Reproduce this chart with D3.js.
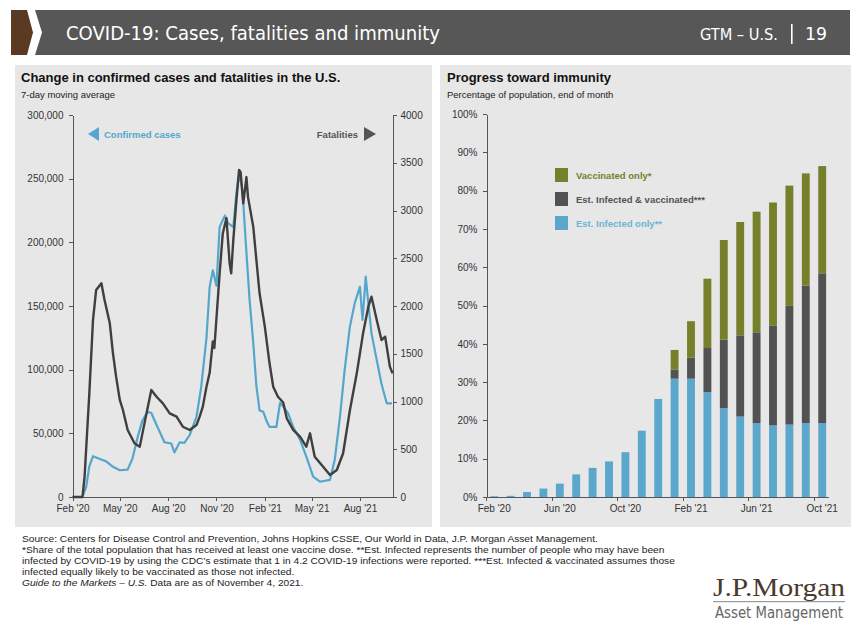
<!DOCTYPE html>
<html>
<head>
<meta charset="utf-8">
<script src="https://cdn.jsdelivr.net/npm/d3@7"></script>
<style>
  body { margin: 0; background: #fff; }
  svg { font-family: "Liberation Sans", Arial, sans-serif; }
  .axis path, .axis line { stroke: #555; shape-rendering: crispEdges; }
  .axis text { fill: #333; font-size: 10px; }
</style>
</head>
<body>
<script>
// ---- data ----
// 7-day moving average of confirmed cases (left axis)
var cases = [
  ["2020-02-01", 0], ["2020-02-20", 0], ["2020-02-27", 8000], ["2020-03-04", 24000],
  ["2020-03-11", 32000], ["2020-03-23", 30000], ["2020-04-05", 28000], ["2020-04-17", 24000],
  ["2020-05-01", 21000], ["2020-05-16", 21500], ["2020-05-25", 30000], ["2020-06-04", 47000],
  ["2020-06-13", 60000], ["2020-06-23", 67000], ["2020-06-30", 66000], ["2020-07-10", 56500],
  ["2020-07-25", 43000], ["2020-08-07", 42000], ["2020-08-13", 35000], ["2020-08-23", 43000],
  ["2020-09-01", 42500], ["2020-09-11", 48700], ["2020-09-24", 63000], ["2020-10-03", 86600],
  ["2020-10-13", 125000], ["2020-10-19", 165000], ["2020-10-25", 178000], ["2020-11-01", 166000],
  ["2020-11-07", 212000], ["2020-11-17", 221000], ["2020-11-23", 215000], ["2020-12-03", 212000],
  ["2020-12-09", 239000], ["2020-12-14", 254000], ["2020-12-19", 244000], ["2020-12-22", 231000],
  ["2020-12-28", 192000], ["2021-01-03", 155000], ["2021-01-10", 121000], ["2021-01-16", 87000],
  ["2021-01-22", 68000], ["2021-01-29", 67000], ["2021-02-04", 60000], ["2021-02-10", 55000],
  ["2021-02-23", 55000], ["2021-03-02", 74000], ["2021-03-08", 71000], ["2021-03-17", 66000],
  ["2021-03-27", 55000], ["2021-04-09", 45000], ["2021-04-21", 31700], ["2021-05-04", 16000],
  ["2021-05-17", 12000], ["2021-06-05", 13400], ["2021-06-14", 29000], ["2021-06-24", 63000],
  ["2021-07-03", 100000], ["2021-07-13", 134000], ["2021-07-22", 152000], ["2021-08-01", 165000],
  ["2021-08-06", 139000], ["2021-08-12", 173000], ["2021-08-17", 152000], ["2021-08-23", 128500],
  ["2021-09-02", 107600], ["2021-09-11", 89000], ["2021-09-21", 73600], ["2021-10-01", 73600]
];

// 7-day moving average of fatalities (right axis)
var deaths = [
  ["2020-02-01", 0], ["2020-02-20", 0], ["2020-02-24", 213], ["2020-03-04", 1083],
  ["2020-03-11", 1853], ["2020-03-17", 2168], ["2020-03-27", 2238], ["2020-04-02", 2063],
  ["2020-04-12", 1819], ["2020-04-18", 1505], ["2020-04-24", 1260], ["2020-05-01", 1016],
  ["2020-05-07", 911], ["2020-05-16", 702], ["2020-05-29", 562], ["2020-06-08", 527],
  ["2020-06-17", 772], ["2020-06-30", 1120], ["2020-07-10", 1050], ["2020-07-22", 981],
  ["2020-08-04", 876], ["2020-08-17", 841], ["2020-08-29", 736], ["2020-09-11", 702],
  ["2020-09-24", 754], ["2020-09-30", 841], ["2020-10-06", 946], ["2020-10-13", 1155],
  ["2020-10-19", 1300], ["2020-10-25", 1630], ["2020-10-28", 1560], ["2020-11-07", 2342],
  ["2020-11-13", 2760], ["2020-11-20", 2920], ["2020-11-26", 2450], ["2020-11-29", 2342],
  ["2020-12-03", 2690], ["2020-12-09", 3110], ["2020-12-14", 3424], ["2020-12-17", 3400],
  ["2020-12-22", 3075], ["2020-12-28", 3350], ["2020-12-31", 3140], ["2021-01-10", 2830],
  ["2021-01-16", 2480], ["2021-01-22", 2133], ["2021-02-01", 1784], ["2021-02-10", 1400],
  ["2021-02-17", 1155], ["2021-02-26", 1050], ["2021-03-08", 990], ["2021-03-15", 820],
  ["2021-03-27", 702], ["2021-04-09", 632], ["2021-04-21", 527], ["2021-04-28", 667],
  ["2021-05-07", 422], ["2021-05-23", 317], ["2021-06-05", 230], ["2021-06-18", 283],
  ["2021-06-30", 458], ["2021-07-13", 911], ["2021-07-26", 1295], ["2021-08-07", 1714],
  ["2021-08-17", 1993], ["2021-08-23", 2098], ["2021-09-02", 1853], ["2021-09-11", 1644],
  ["2021-09-18", 1679], ["2021-09-27", 1365], ["2021-10-02", 1295]
];

var caseTicks = [0, 50000, 100000, 150000, 200000, 250000, 300000];
var deathTicks = [0, 500, 1000, 1500, 2000, 2500, 3000, 3500, 4000];
var lineDateTicks = ["2020-02-01", "2020-05-01", "2020-08-01", "2020-11-01", "2021-02-01", "2021-05-01", "2021-08-01"];

// immunity, % of population at end of month
var months = ["Feb '20", "Mar '20", "Apr '20", "May '20", "Jun '20", "Jul '20", "Aug '20",
  "Sep '20", "Oct '20", "Nov '20", "Dec '20", "Jan '21", "Feb '21", "Mar '21", "Apr '21",
  "May '21", "Jun '21", "Jul '21", "Aug '21", "Sep '21", "Oct '21"];
var infectedOnly = [0.2, 0.3, 1.3, 2.2, 3.5, 5.9, 7.6, 9.3, 11.7, 17.3, 25.6, 30.9, 30.9, 27.4, 23.2, 21.0, 19.3, 18.7, 18.9, 19.3, 19.3];
var infectedVacc = [0, 0, 0, 0, 0, 0, 0, 0, 0, 0, 0, 2.4, 5.5, 11.5, 17.9, 21.2, 23.7, 26.0, 31.0, 35.9, 39.1];
var vaccOnly = [0, 0, 0, 0, 0, 0, 0, 0, 0, 0, 0, 5.1, 9.5, 18.1, 26.0, 29.6, 31.5, 32.2, 31.4, 29.3, 28.0];
var pctTicks = [0, 10, 20, 30, 40, 50, 60, 70, 80, 90, 100];
var barMonthTicks = ["Feb '20", "Jun '20", "Oct '20", "Feb '21", "Jun '21", "Oct '21"];

var seriesKeys = ["infectedOnly", "infectedVacc", "vaccOnly"];
var seriesNames = { vaccOnly: "Vaccinated only*", infectedVacc: "Est. Infected & vaccinated***", infectedOnly: "Est. Infected only**" };
var colors = { vaccOnly: "#76802b", infectedVacc: "#525252", infectedOnly: "#5ba7cb" };
var blue = "#55a6cc", dark = "#3f3f3f";

var W = 859, H = 634;
var parse = d3.timeParse("%Y-%m-%d");

var svg = d3.select('body').append('svg').attr('width', W).attr('height', H);

// ---- header ----
var head = svg.append('g');
head.append('path').attr('d', 'M11,10 L27,10 L33,32.5 L27,55 L11,55 Z').attr('fill', '#5a3a22');
head.append('path').attr('d', 'M35,10 L850,10 L850,55 L35,55 L42,32.5 Z').attr('fill', '#575757');
head.append('text').attr('x', 66).attr('y', 40)
  .attr('fill', '#fff').attr('font-size', 19)
  .attr('font-family', '"Liberation Sans Narrow", "DejaVu Sans Condensed", "Liberation Sans", sans-serif')
  .attr('textLength', 374).attr('lengthAdjust', 'spacingAndGlyphs')
  .text('COVID-19: Cases, fatalities and immunity');
head.append('text').attr('x', 700).attr('y', 40)
  .attr('fill', '#fff').attr('font-size', 15)
  .attr('font-family', '"Liberation Sans Narrow", "DejaVu Sans Condensed", "Liberation Sans", sans-serif')
  .attr('textLength', 78).attr('lengthAdjust', 'spacingAndGlyphs')
  .text('GTM – U.S.');
head.append('rect').attr('x', 791).attr('y', 24).attr('width', 1.6).attr('height', 20).attr('fill', '#fff');
head.append('text').attr('x', 805).attr('y', 40)
  .attr('fill', '#fff').attr('font-size', 17)
  .attr('font-family', '"Liberation Sans Narrow", "DejaVu Sans Condensed", "Liberation Sans", sans-serif')
  .attr('textLength', 22).attr('lengthAdjust', 'spacingAndGlyphs')
  .text('19');

// ---- panels ----
svg.append('rect').attr('x', 15).attr('y', 65).attr('width', 417).attr('height', 462).attr('fill', '#e7e7e7');
svg.append('rect').attr('x', 440).attr('y', 65).attr('width', 411).attr('height', 462).attr('fill', '#e7e7e7');

function panelTitle(x, title, sub) {
  svg.append('text').attr('x', x).attr('y', 82).attr('font-size', 13).attr('font-weight', 'bold')
    .attr('fill', '#111').text(title);
  svg.append('text').attr('x', x).attr('y', 98).attr('font-size', 9.5)
    .attr('fill', '#222').text(sub);
}
panelTitle(21, 'Change in confirmed cases and fatalities in the U.S.', '7-day moving average');
panelTitle(447, 'Progress toward immunity', 'Percentage of population, end of month');

// ---- left chart: cases & fatalities ----
var x = d3.scaleTime().domain([parse("2020-02-01"), parse("2021-10-02")]).range([72.5, 392.5]);
var yC = d3.scaleLinear().domain([0, 300000]).range([497, 115]);
var yD = d3.scaleLinear().domain([0, 4000]).range([497, 115]);

svg.append('g').attr('class', 'axis').attr('transform', 'translate(72.5,0)')
  .call(d3.axisLeft(yC).tickValues(caseTicks).tickSize(4).tickSizeOuter(0).tickPadding(5).tickFormat(d3.format(',')));
svg.append('g').attr('class', 'axis').attr('transform', 'translate(392.5,0)')
  .call(d3.axisRight(yD).tickValues(deathTicks).tickSize(4).tickSizeOuter(0).tickPadding(4).tickFormat(d3.format('d')));
svg.append('g').attr('class', 'axis').attr('transform', 'translate(0,497)')
  .call(d3.axisBottom(x).tickValues(lineDateTicks.map(parse)).tickSize(4).tickSizeOuter(0).tickPadding(4)
    .tickFormat(d3.timeFormat("%b '%y")));

var lineC = d3.line().x(function(d){ return x(parse(d[0])) }).y(function(d){ return yC(d[1]) });
var lineD = d3.line().x(function(d){ return x(parse(d[0])) }).y(function(d){ return yD(d[1]) });

svg.append('path').datum(cases).attr('d', lineC)
  .attr('fill', 'none').attr('stroke', blue).attr('stroke-width', 2.2).attr('stroke-linejoin', 'round');
svg.append('path').datum(deaths).attr('d', lineD)
  .attr('fill', 'none').attr('stroke', dark).attr('stroke-width', 2.4).attr('stroke-linejoin', 'round');

// series labels with arrows
svg.append('path').attr('d', 'M88,134 L99,127 L99,141 Z').attr('fill', blue);
svg.append('text').attr('x', 104).attr('y', 137.5).attr('font-size', 9.5).attr('font-weight', 'bold')
  .attr('fill', blue).text('Confirmed cases');
svg.append('path').attr('d', 'M376,134 L364,127 L364,141 Z').attr('fill', '#555');
svg.append('text').attr('x', 358).attr('y', 137.5).attr('font-size', 9.5).attr('font-weight', 'bold')
  .attr('text-anchor', 'end').attr('fill', '#555').text('Fatalities');

// ---- right chart: stacked bars ----
var xb = d3.scaleBand().domain(months).range([486, 830.4]).paddingInner(0.52).paddingOuter(0.26);
var yP = d3.scaleLinear().domain([0, 100]).range([497, 114]);

var rows = months.map(function(m, i){
  return { month: m, infectedOnly: infectedOnly[i], infectedVacc: infectedVacc[i], vaccOnly: vaccOnly[i] };
});
var stacked = d3.stack().keys(seriesKeys)(rows);

svg.append('g').selectAll('g').data(stacked).enter().append('g')
  .attr('fill', function(s){ return colors[s.key] })
  .selectAll('rect').data(function(s){ return s }).enter().append('rect')
    .attr('x', function(d){ return xb(d.data.month) })
    .attr('width', xb.bandwidth())
    .attr('y', function(d){ return yP(d[1]) })
    .attr('height', function(d){ return yP(d[0]) - yP(d[1]) });

svg.append('g').attr('class', 'axis').attr('transform', 'translate(486.5,0)')
  .call(d3.axisLeft(yP).tickValues(pctTicks).tickSize(4).tickSizeOuter(0).tickPadding(5)
    .tickFormat(function(d){ return d + '%' }));
var xAxisB = svg.append('g').attr('class', 'axis').attr('transform', 'translate(0,497)')
  .call(d3.axisBottom(xb).tickValues(barMonthTicks).tickSize(0).tickSizeOuter(0).tickPadding(8));
xAxisB.select('.domain').attr('d', 'M486.5,0.5H829');
xAxisB.selectAll('.tickmark').data(barMonthTicks).enter().append('line')
  .attr('class', 'tickmark')
  .attr('x1', function(m){ return Math.round(xb(m) - xb.step() * xb.paddingInner() / 2) + 0.5 })
  .attr('x2', function(m){ return Math.round(xb(m) - xb.step() * xb.paddingInner() / 2) + 0.5 })
  .attr('y1', 0).attr('y2', 4);

// legend
var legendKeys = ["vaccOnly", "infectedVacc", "infectedOnly"];
var lg = svg.append('g').selectAll('g').data(legendKeys).enter().append('g')
  .attr('transform', function(k, i){ return 'translate(555,' + (168 + i * 24) + ')' });
lg.append('rect').attr('width', 13).attr('height', 14).attr('fill', function(k){ return colors[k] });
lg.append('text').attr('x', 21).attr('y', 10.5).attr('font-size', 9.5).attr('font-weight', 'bold')
  .attr('fill', function(k){ return k === 'infectedOnly' ? '#6cb5d6' : colors[k] })
  .text(function(k){ return seriesNames[k] });

// ---- footnotes (narrow source font, stretched a bit to the original width) ----
var notes = [
  "Source: Centers for Disease Control and Prevention, Johns Hopkins CSSE, Our World in Data, J.P. Morgan Asset Management.",
  "*Share of the total population that has received at least one vaccine dose. **Est. Infected represents the number of people who may have been",
  "infected by COVID-19 by using the CDC’s estimate that 1 in 4.2 COVID-19 infections were reported. ***Est. Infected & vaccinated assumes those",
  "infected equally likely to be vaccinated as those not infected."
];
var foot = svg.append('g').attr('transform', 'translate(22,0) scale(1.17,1)');
foot.selectAll('text').data(notes).enter().append('text')
  .attr('x', 0).attr('y', function(d, i){ return 542 + i * 11 })
  .attr('font-size', 8.7).attr('fill', '#222')
  .text(function(d){ return d });
var last = foot.append('text').attr('x', 0).attr('y', 586).attr('font-size', 8.7).attr('fill', '#222');
last.append('tspan').attr('font-style', 'italic').text('Guide to the Markets – U.S.');
last.append('tspan').text(' Data are as of November 4, 2021.');

// ---- logo ----
svg.append('text').attr('x', 713).attr('y', 596).attr('font-size', 26)
  .attr('font-family', '"Liberation Serif", "DejaVu Serif", serif').attr('fill', '#4a3a2e')
  .attr('textLength', 132).attr('lengthAdjust', 'spacingAndGlyphs').text('J.P.Morgan');
svg.append('rect').attr('x', 713).attr('y', 601).attr('width', 132).attr('height', 1.2).attr('fill', '#999');
svg.append('text').attr('x', 715).attr('y', 618).attr('font-size', 15)
  .attr('font-family', '"Liberation Sans Narrow", "DejaVu Sans Condensed", "Liberation Sans", sans-serif')
  .attr('fill', '#666').attr('textLength', 128).attr('lengthAdjust', 'spacingAndGlyphs').text('Asset Management');
</script>
</body>
</html>
